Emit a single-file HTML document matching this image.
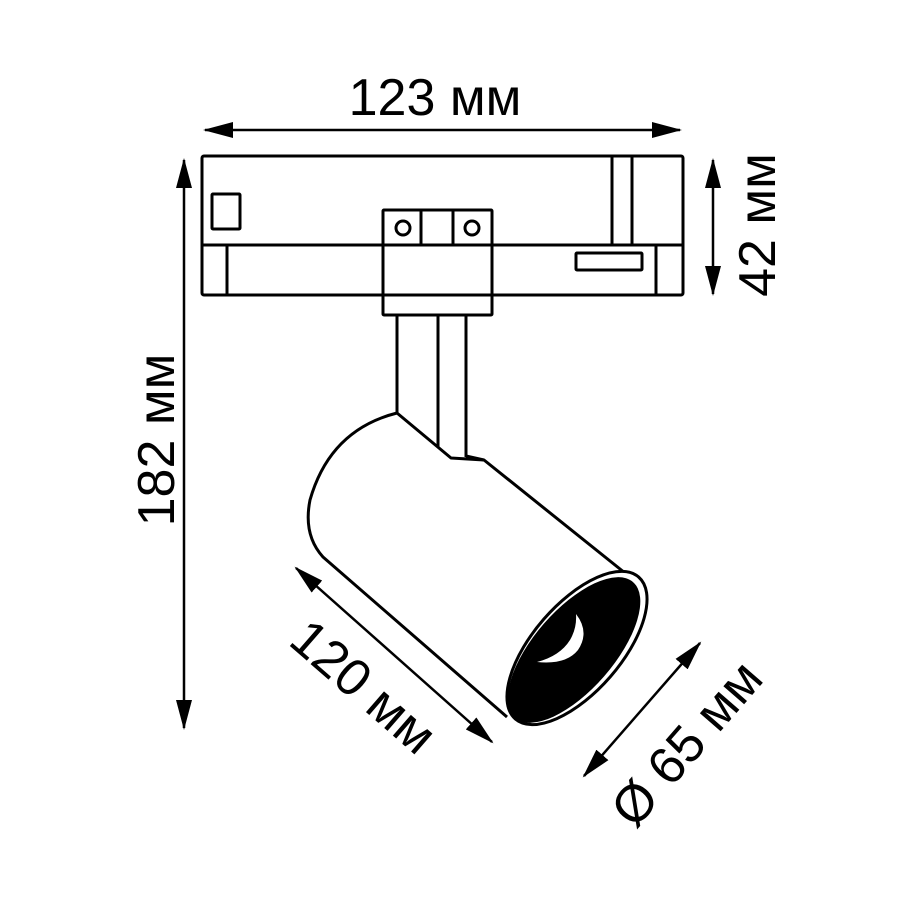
<!DOCTYPE html>
<html><head><meta charset="utf-8"><style>
html,body{margin:0;padding:0;background:#fff;}
svg{display:block;}
text{font-family:"Liberation Sans",sans-serif;font-size:52px;fill:#000;}
</style></head><body>
<svg width="900" height="900" viewBox="0 0 900 900" xmlns="http://www.w3.org/2000/svg">
<defs>
<marker id="a" markerWidth="30" markerHeight="16" refX="28" refY="8" orient="auto-start-reverse" markerUnits="userSpaceOnUse">
<path d="M0,0 L30,8 L0,16 Z" fill="#000"/>
</marker>
</defs>
<g fill="none" stroke="#000" stroke-width="3" stroke-linejoin="round">
<rect x="202" y="156" width="481" height="139" rx="2" fill="#fff"/>
<line x1="202" y1="245" x2="683" y2="245"/>
<rect x="212" y="194" width="28" height="35" rx="1"/>
<line x1="612" y1="156" x2="612" y2="245"/>
<line x1="632" y1="156" x2="632" y2="245"/>
<rect x="576" y="253" width="66" height="17" rx="1"/>
<line x1="227" y1="245" x2="227" y2="295"/>
<line x1="656" y1="245" x2="656" y2="295"/>
<rect x="383" y="210" width="109" height="105" rx="1" fill="#fff"/>
<line x1="383" y1="245" x2="492" y2="245"/>
<line x1="383" y1="295" x2="492" y2="295"/>
<line x1="421" y1="210" x2="421" y2="245"/>
<line x1="453" y1="210" x2="453" y2="245"/>
<circle cx="403" cy="228" r="7"/>
<circle cx="472" cy="228" r="7"/>
<line x1="397" y1="315" x2="397" y2="413"/>
<line x1="438" y1="315" x2="438" y2="448"/>
<line x1="466" y1="315" x2="466" y2="457"/>
<path d="M397,413 Q330,430 310,500 Q303,535 323,557 L507,717" />
<path d="M397,413 L451,458 L484,460 L630,577"/>
<path d="M466,456 L484,460"/>
<ellipse cx="577" cy="648" rx="94" ry="44" transform="rotate(-49 577 648)" fill="#fff"/>
</g>
<ellipse cx="574" cy="650" rx="90" ry="40" transform="rotate(-49 574 650)" fill="#000"/>
<path d="M576,614 Q590,632 578,650 Q566,665 537,662 Q560,656 570,640 Q577,628 576,614 Z" fill="#fff"/>
<g stroke="#000" stroke-width="2.5" fill="none">
<line x1="205" y1="130" x2="680" y2="130" marker-start="url(#a)" marker-end="url(#a)"/>
<line x1="184" y1="160" x2="184" y2="728" marker-start="url(#a)" marker-end="url(#a)"/>
<line x1="713" y1="160" x2="713" y2="294" marker-start="url(#a)" marker-end="url(#a)"/>
<line x1="296" y1="568" x2="492" y2="742" marker-start="url(#a)" marker-end="url(#a)"/>
<line x1="700" y1="643" x2="584" y2="776" marker-start="url(#a)" marker-end="url(#a)"/>
</g>
<text x="435" y="115" text-anchor="middle">123 мм</text>
<text transform="translate(174,440) rotate(-90)" text-anchor="middle">182 мм</text>
<text transform="translate(775,225) rotate(-90)" text-anchor="middle">42 мм</text>
<text transform="translate(352,700) rotate(41)" text-anchor="middle">120 мм</text>
<text transform="translate(700,755) rotate(-49)" text-anchor="middle">Ø 65 мм</text>
</svg>
</body></html>
